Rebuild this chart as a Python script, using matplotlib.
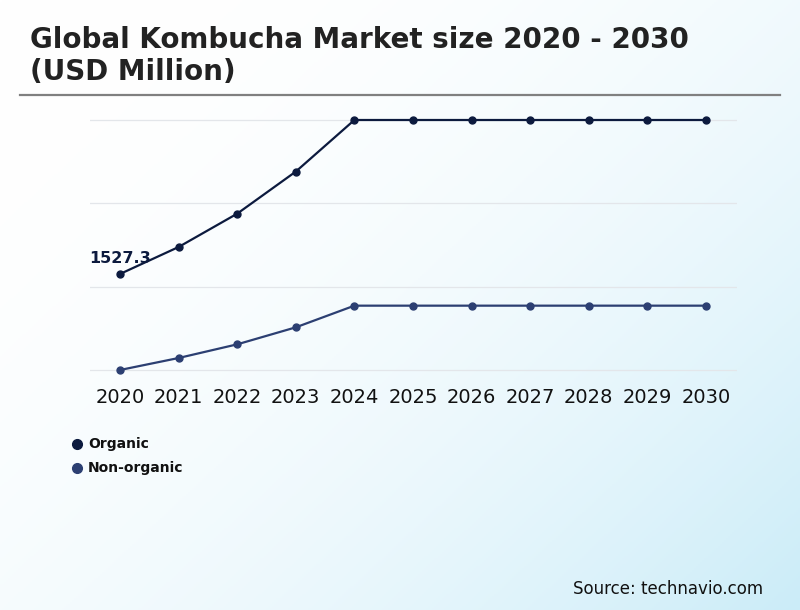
import numpy as np
import matplotlib
matplotlib.use("Agg")
import matplotlib.pyplot as plt
from matplotlib.lines import Line2D

years = [2020, 2021, 2022, 2023, 2024, 2025, 2026, 2027, 2028, 2029, 2030]
organic = [1527.3, 1851, 2251, 2756, 3375, 3375, 3375, 3375, 3375, 3375, 3375]
non_organic = [375, 519, 683, 887, 1147, 1147, 1147, 1147, 1147, 1147, 1147]
grid_values = [375, 1375, 2375, 3375]
series_names = ["Organic", "Non-organic"]
colors = ["#0c1a3e", "#2c3f72"]

W, H = 800, 610
fig = plt.figure(figsize=(W / 100, H / 100), dpi=100)

# gradient background
bg = fig.add_axes([0, 0, 1, 1], zorder=-10)
gx, gy = np.meshgrid(np.linspace(0, 1, 400), np.linspace(0, 1, 305))
t = np.clip((gx * 0.55 + gy * 0.45), 0, 1) ** 2.2
c0 = np.array([1.0, 1.0, 1.0])
c1 = np.array([0xcb, 0xec, 0xf8]) / 255.0
img = c0[None, None, :] * (1 - t[..., None]) + c1[None, None, :] * t[..., None]
bg.imshow(img, aspect="auto", extent=[0, 1, 0, 1], origin="upper")
bg.axis("off")

ax = fig.add_axes([90 / W, 1 - 380 / H, 647 / W, 270 / H])
ax.set_facecolor("none")
ax.plot(years, organic, color=colors[0], lw=1.6, marker="o", ms=5, zorder=3)
ax.plot(years, non_organic, color=colors[1], lw=1.6, marker="o", ms=5, zorder=3)
ax.set_xlim(2020 - 30 / 58.6, 2030 + 31 / 58.6)
ax.set_ylim(255, 3495)
ax.set_yticks(grid_values)
ax.set_yticklabels([])
ax.tick_params(axis="y", length=0)
ax.grid(axis="y", color="#e3e6ea", lw=0.9)
ax.set_axisbelow(True)
ax.set_xticks(years)
ax.set_xticklabels([str(y) for y in years], fontsize=14, color="#111111")
ax.tick_params(axis="x", length=0, pad=6)
for s in ax.spines.values():
    s.set_visible(False)

ax.annotate(f"{organic[0]:.1f}", (years[0], organic[0]), xytext=(0, 6),
            textcoords="offset points", ha="center", va="bottom",
            fontsize=11.5, fontweight="bold", color=colors[0])

# title
fig.text(30 / W, 1 - 56 / H, "Global Kombucha Market size 2020 - 2030\n(USD Million)",
         fontsize=20, fontweight="bold", color="#222222", ha="left", va="center",
         linespacing=1.17)
fig.add_artist(Line2D([20 / W, 780 / W], [1 - 95 / H, 1 - 95 / H], color="#808080", lw=1.6))

# legend
for i, (name, c) in enumerate(zip(series_names, colors)):
    yy = 1 - (444 + 24 * i) / H
    fig.add_artist(Line2D([77 / W], [yy], marker="o", ms=7, color=c, lw=0))
    fig.text(88 / W, yy, name, fontsize=10, fontweight="bold", color="#111111",
             ha="left", va="center")

fig.text(763 / W, 1 - 589 / H, "Source: technavio.com", fontsize=12, color="#111111",
         ha="right", va="center")

fig.savefig("out.png", dpi=100)
